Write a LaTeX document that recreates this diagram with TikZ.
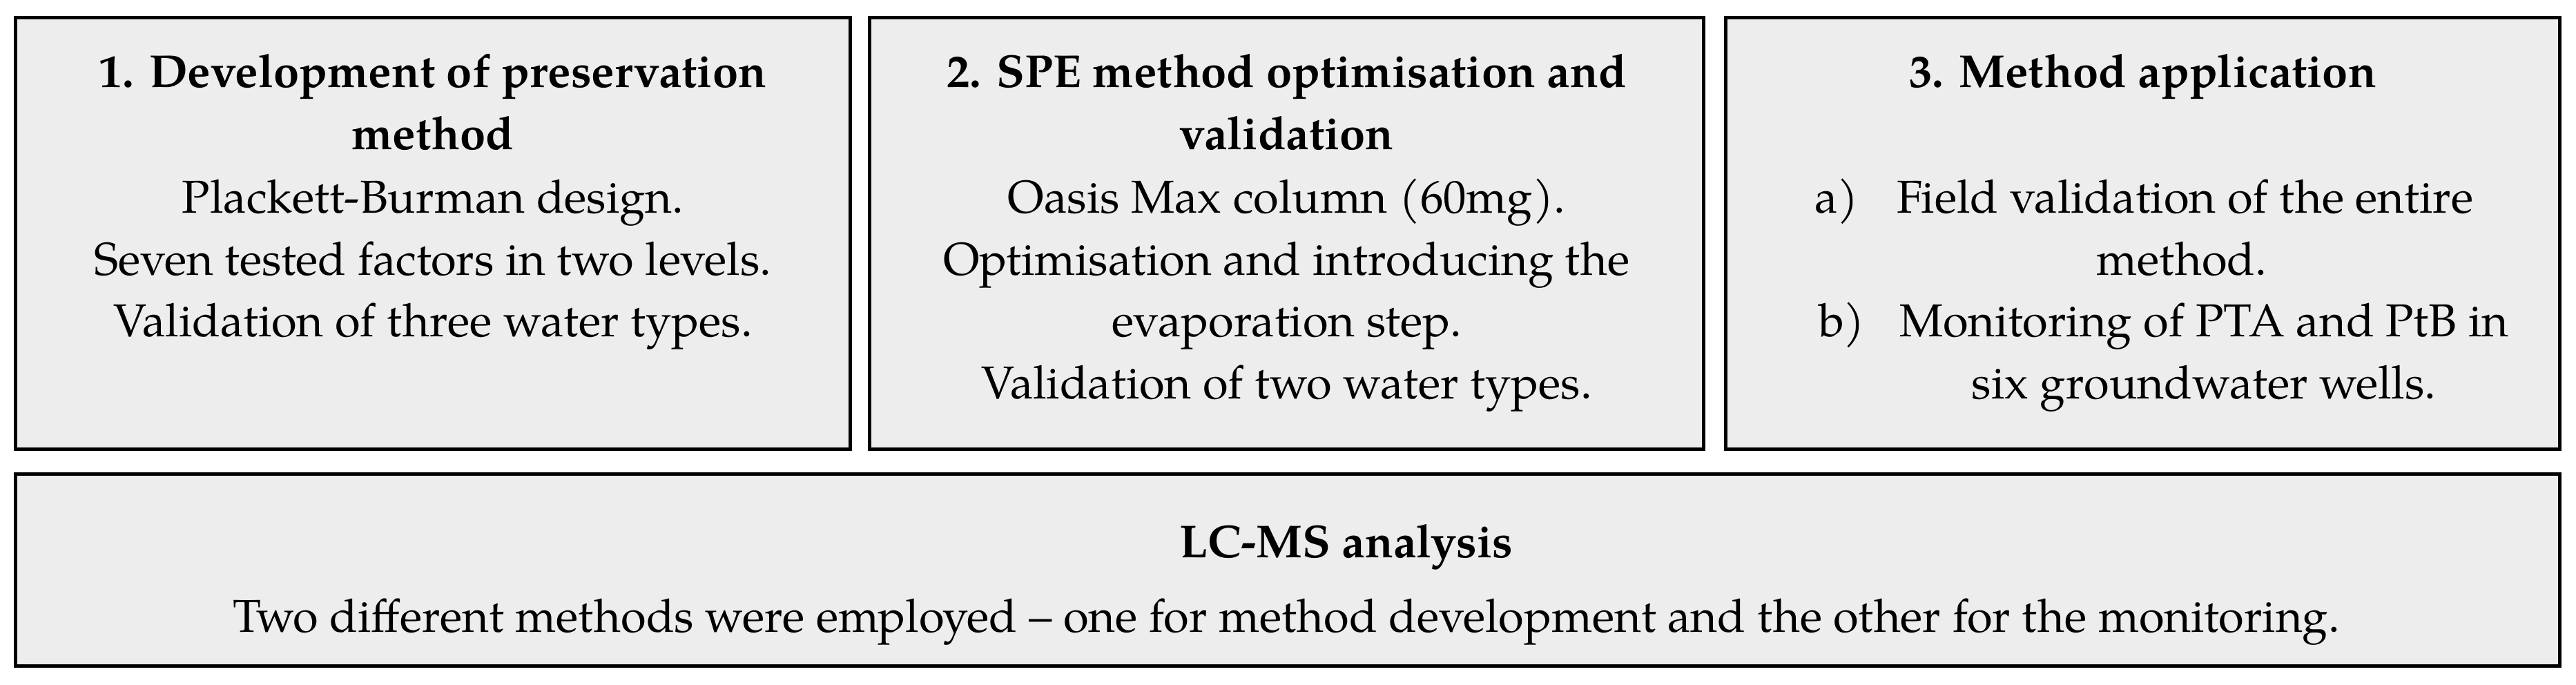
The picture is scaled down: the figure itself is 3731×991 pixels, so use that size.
\documentclass[tikz,border=0pt]{standalone}
\usepackage{fontspec}
\setmainfont{texgyrepagella}[Extension=.otf,UprightFont=*-regular,BoldFont=*-bold,ItalicFont=*-italic,BoldItalicFont=*-bolditalic]
\definecolor{boxfill}{HTML}{EDEDED}
\tikzset{
  panel/.style={draw=black, fill=boxfill, line width=0.05cm},
  txt/.style={inner sep=0pt, outer sep=0pt, font=\fontsize{19}{25.6}\selectfont},
  ttl/.style={txt, font=\fontsize{19}{25.6}\selectfont\bfseries},
}
\begin{document}
\begin{tikzpicture}[x=0.01cm, y=-0.01cm]
\useasboundingbox (0,0) rectangle (3731,991);
% panels
\draw[panel] (22.5,25.5) rectangle (1231.5,650.5);
\draw[panel] (1259.5,25.5) rectangle (2467.5,650.5);
\draw[panel] (2499.5,25.5) rectangle (3707.5,650.5);
\draw[panel] (22.5,686.5) rectangle (3707.5,964.5);
% box 1
\node[ttl, anchor=base] (t1a) at (627,127) {1. Development of preservation};
\node[ttl, anchor=base] (t1b) at (627,216) {method};
\node[txt, anchor=base] (b1a) at (627,308) {Plackett-Burman design.};
\node[txt, anchor=base] (b1b) at (627,398) {Seven tested factors in two levels.};
\node[txt, anchor=base] (b1c) at (627,487) {Validation of three water types.};
% box 2
\node[ttl, anchor=base] (t2a) at (1863.5,127) {2. SPE method optimisation and};
\node[ttl, anchor=base] (t2b) at (1863.5,216) {validation};
\node[txt, anchor=base] (b2a) at (1863.5,308) {Oasis Max column (60mg).};
\node[txt, anchor=base] (b2b) at (1863.5,398) {Optimisation and introducing the};
\node[txt, anchor=base] (b2c) at (1863.5,487) {evaporation step.};
\node[txt, anchor=base] (b2d) at (1863.5,577) {Validation of two water types.};
% box 3
\node[ttl, anchor=base] (t3a) at (3103.5,127) {3. Method application};
\node[txt, anchor=base west] (l3a) at (2628,308) {a)};
\node[txt, anchor=base west] (b3a) at (2747,308) {Field validation of the entire};
\node[txt, anchor=base] (b3b) at (3160,398) {method.};
\node[txt, anchor=base west] (l3b) at (2634,487) {b)};
\node[txt, anchor=base west] (b3c) at (2751,487) {Monitoring of PTA and PtB in};
\node[txt, anchor=base] (b3d) at (3192,577) {six groundwater wells.};
% bottom box
\node[ttl, anchor=base] (t4) at (1950,807) {LC-MS analysis};
\node[txt, anchor=base] (b4) at (1863,915) {Two different methods were employed – one for method development and the other for the monitoring.};
\end{tikzpicture}
\end{document}
